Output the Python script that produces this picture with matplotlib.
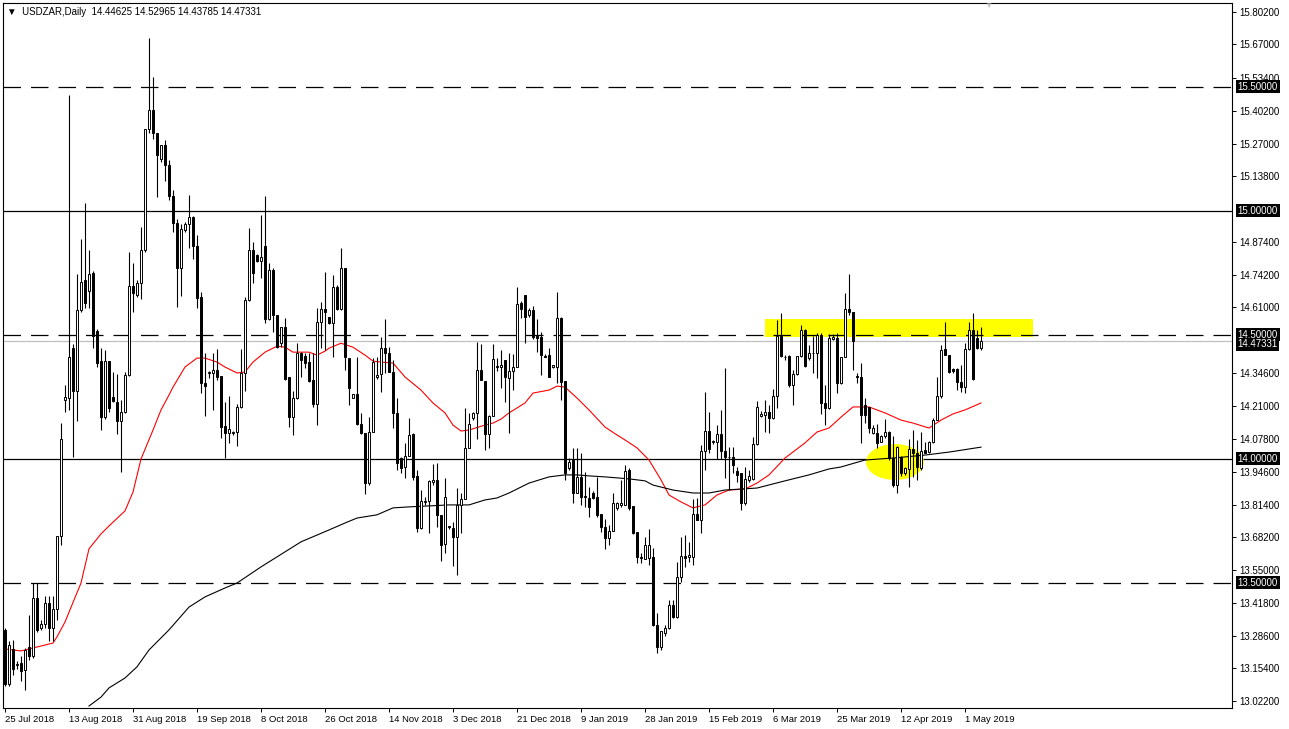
import matplotlib.pyplot as plt
import numpy as np
from matplotlib.patches import Ellipse, Rectangle

# USDZAR daily candles, 25 Jul 2018 .. early May 2019
opens = [
    13.309, 13.091, 13.232, 13.168, 13.176, 13.148, 13.240, 13.204, 13.438, 13.317,
    13.333, 13.418, 13.317, 13.394, 13.688, 14.236, 14.244, 14.445, 14.272, 14.599,
    14.719, 14.675, 14.748, 14.514, 14.393, 14.167, 14.393, 14.248, 14.228, 14.151,
    14.188, 14.337, 14.695, 14.659, 14.707, 14.840, 15.328, 15.405, 15.312, 15.207,
    15.264, 15.183, 15.058, 14.949, 14.768, 14.921, 14.945, 14.973, 14.856, 14.651,
    14.304, 14.345, 14.345, 14.357, 14.333, 14.131, 14.103, 14.103, 14.107, 14.208,
    14.345, 14.639, 14.840, 14.820, 14.796, 14.856, 14.562, 14.760, 14.578, 14.465,
    14.530, 14.329, 14.167, 14.244, 14.425, 14.413, 14.389, 14.316, 14.220, 14.550,
    14.603, 14.571, 14.546, 14.691, 14.603, 14.768, 14.405, 14.244, 14.260, 14.139,
    14.103, 13.903, 14.107, 14.329, 14.341, 14.445, 14.425, 14.349, 14.184, 14.002,
    13.966, 14.010, 14.099, 13.930, 13.720, 13.825, 13.829, 13.906, 13.914, 13.773,
    13.656, 13.724, 13.720, 13.684, 13.813, 13.837, 14.043, 14.163, 14.184, 14.357,
    14.312, 14.099, 14.171, 14.369, 14.369, 14.397, 14.324, 14.353, 14.369, 14.627,
    14.659, 14.578, 14.599, 14.494, 14.490, 14.413, 14.417, 14.369, 14.369, 14.566,
    14.312, 13.962, 13.994, 13.861, 13.926, 13.849, 13.841, 13.861, 13.845, 13.777,
    13.724, 13.680, 13.708, 13.801, 13.813, 13.813, 13.954, 13.809, 13.704, 13.599,
    13.595, 13.599, 13.603, 13.329, 13.240, 13.297, 13.317, 13.410, 13.362, 13.523,
    13.607, 13.603, 13.603, 13.777, 13.752, 14.030, 14.111, 14.067, 14.067, 14.099,
    14.030, 14.006, 14.006, 13.950, 13.942, 13.821, 13.914, 13.918, 14.059, 14.171,
    14.175, 14.188, 14.163, 14.252, 14.494, 14.409, 14.413, 14.296, 14.341, 14.413,
    14.518, 14.405, 14.425, 14.425, 14.498, 14.224, 14.204, 14.482, 14.486, 14.304,
    14.409, 14.603, 14.591, 14.333, 14.329, 14.216, 14.208, 14.103, 14.103, 14.067,
    14.091, 14.107, 14.002, 13.893, 14.006, 13.942, 13.958, 14.039, 14.022, 13.962,
    14.035, 14.026, 14.067, 14.155, 14.252, 14.441, 14.417, 14.361, 14.361, 14.308,
    14.288, 14.441, 14.518, 14.486, 14.44625,
]
highs = [
    13.317, 13.265, 13.269, 13.184, 13.204, 13.236, 13.370, 13.498, 13.498, 13.349,
    13.446, 13.446, 13.446, 13.518, 14.143, 14.296, 15.466, 14.461, 14.744, 14.885,
    15.030, 14.840, 14.756, 14.522, 14.445, 14.437, 14.393, 14.349, 14.341, 14.236,
    14.349, 14.832, 14.788, 14.719, 14.933, 15.328, 15.696, 15.539, 15.312, 15.264,
    15.284, 15.203, 15.082, 14.965, 14.945, 14.953, 15.062, 14.977, 14.901, 14.671,
    14.425, 14.353, 14.425, 14.441, 14.333, 14.228, 14.252, 14.111, 14.220, 14.441,
    14.651, 14.929, 14.873, 14.824, 14.982, 15.058, 14.788, 14.768, 14.578, 14.530,
    14.566, 14.329, 14.272, 14.465, 14.429, 14.425, 14.425, 14.425, 14.607, 14.631,
    14.752, 14.571, 14.740, 14.699, 14.848, 14.768, 14.405, 14.260, 14.409, 14.184,
    14.103, 14.167, 14.405, 14.409, 14.490, 14.562, 14.449, 14.397, 14.244, 14.006,
    14.063, 14.163, 14.103, 13.954, 13.873, 13.845, 13.914, 13.978, 13.982, 13.773,
    13.922, 13.728, 13.744, 13.881, 13.861, 14.204, 14.184, 14.188, 14.469, 14.461,
    14.312, 14.175, 14.461, 14.405, 14.437, 14.397, 14.425, 14.421, 14.691, 14.635,
    14.659, 14.607, 14.615, 14.562, 14.510, 14.421, 14.445, 14.377, 14.671, 14.571,
    14.312, 14.002, 14.043, 14.043, 14.022, 13.946, 13.885, 13.869, 13.926, 13.777,
    13.756, 13.732, 13.861, 13.825, 13.914, 13.974, 13.962, 13.809, 13.704, 13.619,
    13.684, 13.716, 13.640, 13.378, 13.305, 13.329, 13.430, 13.430, 13.583, 13.684,
    13.692, 13.664, 13.837, 13.841, 14.055, 14.268, 14.188, 14.075, 14.135, 14.196,
    14.365, 14.047, 14.047, 13.966, 13.942, 13.966, 13.954, 14.087, 14.232, 14.192,
    14.236, 14.216, 14.280, 14.558, 14.586, 14.417, 14.417, 14.357, 14.413, 14.538,
    14.522, 14.457, 14.494, 14.506, 14.506, 14.296, 14.502, 14.502, 14.506, 14.409,
    14.667, 14.744, 14.591, 14.345, 14.385, 14.244, 14.208, 14.135, 14.139, 14.095,
    14.159, 14.111, 14.091, 14.051, 14.010, 13.966, 14.079, 14.115, 14.075, 14.107,
    14.067, 14.071, 14.163, 14.329, 14.457, 14.550, 14.417, 14.365, 14.365, 14.377,
    14.465, 14.550, 14.586, 14.518, 14.52965,
]
lows = [
    13.083, 13.083, 13.128, 13.152, 13.103, 13.067, 13.188, 13.196, 13.301, 13.309,
    13.317, 13.265, 13.265, 13.349, 13.652, 14.188, 14.196, 14.006, 14.151, 14.591,
    14.607, 14.607, 14.445, 14.369, 14.115, 14.159, 14.188, 14.228, 14.099, 13.946,
    14.184, 14.333, 14.591, 14.651, 14.643, 14.832, 15.312, 15.288, 15.054, 15.195,
    15.118, 15.042, 14.913, 14.611, 14.655, 14.913, 14.848, 14.804, 14.607, 14.264,
    14.171, 14.324, 14.196, 14.316, 14.083, 14.002, 14.063, 14.095, 14.051, 14.204,
    14.272, 14.635, 14.707, 14.792, 14.728, 14.546, 14.558, 14.510, 14.445, 14.449,
    14.316, 14.127, 14.095, 14.240, 14.329, 14.365, 14.308, 14.208, 14.135, 14.445,
    14.437, 14.542, 14.409, 14.599, 14.599, 14.357, 14.216, 14.244, 14.135, 14.099,
    13.857, 13.894, 14.107, 14.320, 14.268, 14.345, 14.349, 14.123, 13.954, 13.942,
    13.922, 14.010, 13.914, 13.704, 13.716, 13.813, 13.700, 13.894, 13.724, 13.587,
    13.619, 13.716, 13.567, 13.531, 13.700, 13.837, 14.043, 14.155, 14.079, 14.316,
    14.035, 14.043, 14.171, 14.353, 14.284, 14.228, 14.103, 14.276, 14.369, 14.566,
    14.465, 14.571, 14.482, 14.429, 14.337, 14.409, 14.329, 14.365, 14.304, 14.236,
    13.914, 13.954, 13.821, 13.861, 13.813, 13.805, 13.764, 13.837, 13.764, 13.704,
    13.636, 13.652, 13.708, 13.793, 13.805, 13.813, 13.793, 13.696, 13.579, 13.579,
    13.595, 13.571, 13.325, 13.216, 13.228, 13.285, 13.313, 13.358, 13.358, 13.503,
    13.563, 13.583, 13.571, 13.752, 13.700, 13.954, 14.022, 14.059, 13.998, 13.998,
    13.922, 13.873, 13.942, 13.906, 13.793, 13.813, 13.906, 13.914, 14.055, 14.167,
    14.107, 14.103, 14.159, 14.204, 14.409, 14.397, 14.288, 14.216, 14.337, 14.409,
    14.369, 14.397, 14.345, 14.324, 14.180, 14.135, 14.200, 14.478, 14.264, 14.300,
    14.409, 14.578, 14.357, 14.304, 14.063, 14.143, 14.103, 14.099, 14.043, 14.067,
    14.083, 13.994, 13.885, 13.861, 13.930, 13.934, 13.885, 13.926, 13.914, 13.954,
    14.022, 14.022, 14.063, 14.155, 14.244, 14.417, 14.345, 14.345, 14.276, 14.268,
    14.264, 14.437, 14.316, 14.441, 14.43785,
]
closes = [
    13.091, 13.249, 13.152, 13.170, 13.144, 13.228, 13.204, 13.438, 13.309, 13.333,
    13.418, 13.317, 13.394, 13.688, 14.079, 14.248, 14.409, 14.272, 14.599, 14.711,
    14.627, 14.744, 14.494, 14.385, 14.167, 14.393, 14.204, 14.232, 14.151, 14.188,
    14.337, 14.695, 14.667, 14.707, 14.840, 15.328, 15.405, 15.312, 15.223, 15.264,
    15.183, 15.058, 14.949, 14.768, 14.925, 14.945, 14.973, 14.856, 14.647, 14.304,
    14.292, 14.347, 14.357, 14.329, 14.127, 14.103, 14.119, 14.105, 14.208, 14.345,
    14.639, 14.840, 14.748, 14.796, 14.812, 14.562, 14.760, 14.578, 14.449, 14.530,
    14.320, 14.167, 14.244, 14.425, 14.397, 14.385, 14.312, 14.220, 14.550, 14.603,
    14.591, 14.546, 14.691, 14.603, 14.768, 14.409, 14.284, 14.260, 14.139, 14.103,
    13.903, 14.107, 14.389, 14.337, 14.445, 14.425, 14.349, 14.184, 13.982, 13.962,
    14.010, 14.095, 13.926, 13.720, 13.829, 13.827, 13.910, 13.914, 13.773, 13.652,
    13.845, 13.726, 13.684, 13.813, 13.837, 14.043, 14.139, 14.184, 14.357, 14.316,
    14.099, 14.171, 14.401, 14.373, 14.377, 14.329, 14.353, 14.369, 14.623, 14.603,
    14.571, 14.599, 14.490, 14.488, 14.417, 14.411, 14.329, 14.377, 14.566, 14.308,
    13.942, 13.986, 13.861, 13.926, 13.845, 13.843, 13.805, 13.841, 13.773, 13.724,
    13.680, 13.708, 13.821, 13.821, 13.821, 13.950, 13.801, 13.700, 13.603, 13.601,
    13.652, 13.652, 13.329, 13.240, 13.305, 13.317, 13.410, 13.362, 13.523, 13.607,
    13.599, 13.609, 13.777, 13.752, 14.030, 14.111, 14.039, 14.071, 14.099, 14.030,
    14.006, 14.008, 13.974, 13.934, 13.821, 13.918, 13.930, 14.059, 14.208, 14.180,
    14.188, 14.163, 14.252, 14.494, 14.413, 14.411, 14.296, 14.341, 14.413, 14.518,
    14.373, 14.425, 14.427, 14.498, 14.224, 14.204, 14.486, 14.490, 14.304, 14.409,
    14.603, 14.591, 14.474, 14.329, 14.175, 14.175, 14.123, 14.123, 14.063, 14.091,
    14.107, 14.002, 13.893, 14.047, 13.942, 13.962, 14.039, 14.022, 13.966, 14.030,
    14.022, 14.067, 14.155, 14.252, 14.437, 14.417, 14.349, 14.353, 14.308, 14.288,
    14.441, 14.518, 14.320, 14.445, 14.47331,
]

# moving averages, sampled along the drawn lines (bar index, price)
ma50_bars = [0, 4, 7, 12, 13, 15, 19, 21, 24, 26, 30, 32, 34, 37, 39, 41, 42, 45, 48, 50,
             53, 55, 58, 60, 62, 65, 68, 70, 72, 76, 78, 80, 81, 84, 87, 90, 92, 94, 97, 100,
             104, 107, 110, 112, 114, 116, 120, 122, 124, 126, 130, 132, 136, 138, 140, 143,
             146, 150, 153, 155, 158, 161, 164, 166, 169, 172, 175, 178, 181, 185, 188, 191,
             195, 200, 203, 206, 209, 212, 216, 220, 224, 227, 231, 234, 237, 240, 244]
ma50_vals = [13.232, 13.224, 13.236, 13.256, 13.281, 13.341, 13.498, 13.636, 13.696, 13.728,
             13.789, 13.865, 13.998, 14.115, 14.196, 14.256, 14.288, 14.369, 14.405, 14.405,
             14.389, 14.369, 14.345, 14.349, 14.389, 14.429, 14.453, 14.449, 14.429, 14.429,
             14.417, 14.433, 14.445, 14.465, 14.449, 14.417, 14.393, 14.389, 14.385, 14.329,
             14.276, 14.224, 14.184, 14.135, 14.111, 14.115, 14.135, 14.143, 14.159, 14.184,
             14.224, 14.264, 14.276, 14.292, 14.288, 14.244, 14.196, 14.127, 14.095, 14.075,
             14.043, 13.994, 13.914, 13.853, 13.825, 13.801, 13.813, 13.853, 13.873, 13.877,
             13.901, 13.934, 14.002, 14.063, 14.107, 14.123, 14.167, 14.208, 14.208, 14.184,
             14.155, 14.143, 14.123, 14.155, 14.180, 14.196, 14.224]
ma200_bars = [21, 24, 26, 30, 33, 36, 41, 46, 50, 55, 58, 64, 74, 81, 85, 88, 93, 97, 101,
              106, 111, 116, 120, 123, 126, 131, 136, 140, 143, 146, 150, 153, 156, 160, 162,
              167, 172, 176, 180, 188, 195, 201, 206, 209, 215, 222, 230, 236, 244]
ma200_vals = [13.002, 13.038, 13.075, 13.115, 13.160, 13.228, 13.309, 13.401, 13.442, 13.478,
              13.498, 13.563, 13.664, 13.712, 13.740, 13.760, 13.773, 13.801, 13.805, 13.809,
              13.813, 13.813, 13.833, 13.841, 13.861, 13.901, 13.926, 13.934, 13.934, 13.930,
              13.926, 13.922, 13.918, 13.910, 13.893, 13.873, 13.861, 13.861, 13.873, 13.881,
              13.910, 13.934, 13.958, 13.966, 13.994, 14.002, 14.014, 14.026, 14.046]

date_labels = ['25 Jul 2018', '13 Aug 2018', '31 Aug 2018', '19 Sep 2018', '8 Oct 2018',
               '26 Oct 2018', '14 Nov 2018', '3 Dec 2018', '21 Dec 2018', '9 Jan 2019',
               '28 Jan 2019', '15 Feb 2019', '6 Mar 2019', '25 Mar 2019', '12 Apr 2019',
               '1 May 2019']
price_ticks = [15.802, 15.670, 15.534, 15.402, 15.270, 15.138, 14.874, 14.742, 14.610,
               14.346, 14.210, 14.078, 13.946, 13.814, 13.682, 13.550, 13.418, 13.286,
               13.154, 13.022]
dashed_levels = [15.5, 14.5, 13.5]
solid_levels = [15.0, 14.0]
last_price = 14.47331

plt.rcParams['font.family'] = ['Liberation Sans', 'DejaVu Sans']

fig = plt.figure(figsize=(12.89, 7.29), dpi=100)
ax = fig.add_axes([3 / 1289, 21 / 729, 1229 / 1289, 705 / 729])

o = np.array(opens)
h = np.array(highs)
l = np.array(lows)
c = np.array(closes)
x = np.arange(len(o))
up = c >= o
body_lo = np.minimum(o, c)
body_h = np.maximum(np.abs(c - o), 0.001)

# marked zones
ax.add_patch(Rectangle((190, 14.490), 67, 0.073, color='#ffff00', lw=0, zorder=1))
ax.add_patch(Ellipse((222.5, 13.986), 14.5, 0.145, color='#ffff00', lw=0, zorder=2.5))

ax.axhline(last_price, color='#c0c0c0', lw=0.9, zorder=0.5)
for lv in dashed_levels:
    ax.axhline(lv, color='black', lw=0.9, ls=(0, (14, 8)), zorder=2)
for lv in solid_levels:
    ax.axhline(lv, color='black', lw=0.9, zorder=2)

ax.plot(ma50_bars, ma50_vals, color='#ff0000', lw=0.8, zorder=3)
ax.plot(ma200_bars, ma200_vals, color='black', lw=0.8, zorder=3)

ax.vlines(x, l, h, color='black', lw=0.8, zorder=4)
ax.bar(x[up], body_h[up], bottom=body_lo[up], width=0.5, color='white',
       edgecolor='black', lw=0.7, zorder=5)
ax.bar(x[~up], body_h[~up], bottom=body_lo[~up], width=0.5, color='black',
       edgecolor='black', lw=0.7, zorder=5)

ax.set_xlim(-0.5, 306.75)
ax.set_ylim(12.994, 15.837)

ax.yaxis.tick_right()
ax.set_yticks(price_ticks)
ax.set_yticklabels([f'{v:.5f}' for v in price_ticks])
ax.tick_params(axis='y', direction='out', length=3, width=0.7, labelsize=7, pad=2.5)

ax.set_xticks(np.arange(0, 16 * len(date_labels), 16))
ax.set_xticklabels(date_labels, ha='left')
ax.tick_params(axis='x', direction='out', length=3, width=0.7, labelsize=6.8, pad=2)

for sp in ax.spines.values():
    sp.set_color('black')
    sp.set_linewidth(0.8)

# highlighted price labels on the scale
ytr = ax.get_yaxis_transform()
for lv in dashed_levels + solid_levels:
    ax.text(1.0047, lv, f'{lv:.5f}', transform=ytr, ha='left', va='center', fontsize=7,
            color='white', bbox=dict(facecolor='black', edgecolor='none', pad=1.2))
ax.text(1.0047, last_price - 0.012, f'{last_price:.5f}', transform=ytr, ha='left',
        va='center', fontsize=7, color='white',
        bbox=dict(facecolor='black', edgecolor='none', pad=1.0))

fig.text(7 / 1289, 1 - 12 / 729, '\u25bc  USDZAR,Daily  14.44625 14.52965 14.43785 14.47331',
         fontsize=7, va='center', ha='left', color='black')
fig.text(988 / 1289, 1 - 6 / 729, '\u25bc', fontsize=6, color='#c8c8c8', ha='center', va='center')

fig.savefig('out.png', dpi=100, facecolor='white')
